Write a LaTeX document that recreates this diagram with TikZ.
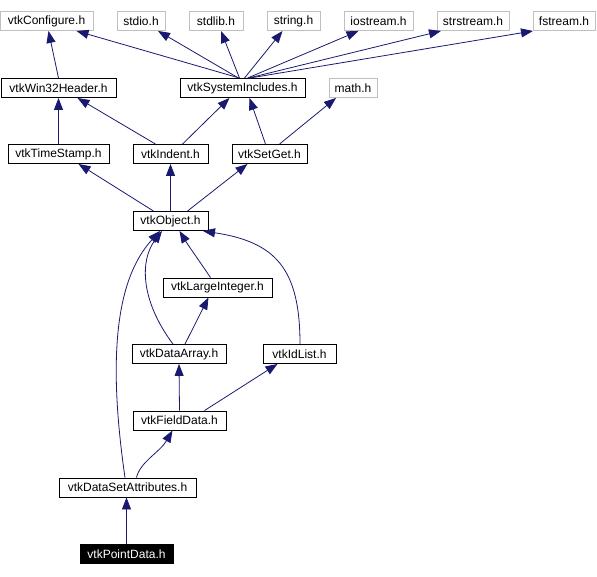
\documentclass[tikz,border=0pt]{standalone}
\usepackage{fontspec}
\setmainfont{Liberation Sans}
\usetikzlibrary{positioning, arrows.meta}
\definecolor{incblue}{HTML}{191970}
\definecolor{sysgray}{HTML}{BFBFBF}

\begin{document}
\begin{tikzpicture}[
    x=1pt, y=-1pt,
    hdr node/.style={
        draw=black, rectangle, minimum height=19pt, inner sep=0pt,
        font=\fontsize{12}{14}\selectfont, line width=0.9pt
    },
    sys node/.style={hdr node, draw=sysgray},
    main node/.style={hdr node, fill=black, text=white},
    inc/.style={-{Triangle[length=12pt,width=9pt]}, line width=0.8pt, draw=incblue}
]

% marco fijo de la imagen
\useasboundingbox (0,0) rectangle (597,576);

% ------------------------------------------------------------------------------
% 1. CABECERAS (coordenadas en pixeles)
% ------------------------------------------------------------------------------
\node[sys node, minimum width=93pt] (conf) at (46.5,21) {vtkConfigure.h};
\node[sys node, minimum width=48pt] (stdio) at (141,21) {stdio.h};
\node[sys node, minimum width=54pt] (stdlib) at (216,21) {stdlib.h};
\node[sys node, minimum width=53pt] (string) at (293.5,21) {string.h};
\node[sys node, minimum width=69pt] (iostream) at (378.5,21) {iostream.h};
\node[sys node, minimum width=72pt] (strstream) at (473,21) {strstream.h};
\node[sys node, minimum width=62pt] (fstream) at (564,21) {fstream.h};

\node[hdr node, minimum width=115pt] (win32) at (58.5,88) {vtkWin32Header.h};
\node[hdr node, minimum width=125pt] (sysinc) at (242.5,88) {vtkSystemIncludes.h};
\node[sys node, minimum width=48pt] (math) at (353,88) {math.h};

\node[hdr node, minimum width=101pt] (timestamp) at (58.5,154) {vtkTimeStamp.h};
\node[hdr node, minimum width=75pt] (indent) at (170.5,154) {vtkIndent.h};
\node[hdr node, minimum width=75pt] (setget) at (269.5,154) {vtkSetGet.h};

\node[hdr node, minimum width=75pt] (object) at (170.5,221) {vtkObject.h};
\node[hdr node, minimum width=109pt] (largeint) at (217.5,287.5) {vtkLargeInteger.h};
\node[hdr node, minimum width=94pt] (dataarray) at (179,354) {vtkDataArray.h};
\node[hdr node, minimum width=73pt] (idlist) at (299.5,354) {vtkIdList.h};
\node[hdr node, minimum width=93pt] (fielddata) at (179.5,420.5) {vtkFieldData.h};
\node[hdr node, minimum width=137pt] (dsattr) at (127.5,487.5) {vtkDataSetAttributes.h};
\node[main node, minimum width=93pt] (pointdata) at (126.5,554) {vtkPointData.h};

% ------------------------------------------------------------------------------
% 2. INCLUDES DE SISTEMA
% ------------------------------------------------------------------------------
\draw[inc] (win32.north) -- ([xshift=2pt]conf.south);
\draw[inc] ([xshift=-3pt]sysinc.north) -- ([xshift=30pt]conf.south);
\draw[inc] ([xshift=-4pt]sysinc.north) -- ([xshift=17pt]stdio.south);
\draw[inc] ([xshift=-3pt]sysinc.north) -- ([xshift=5pt]stdlib.south);
\draw[inc] ([xshift=2pt]sysinc.north) -- ([xshift=-11pt]string.south);
\draw[inc] ([xshift=5pt]sysinc.north) -- ([xshift=-20pt]iostream.south);
\draw[inc] ([xshift=6pt]sysinc.north) -- ([xshift=-32pt]strstream.south);
\draw[inc] ([xshift=7pt]sysinc.north) -- ([xshift=-31pt]fstream.south);

% ------------------------------------------------------------------------------
% 3. NIVEL INTERMEDIO
% ------------------------------------------------------------------------------
\draw[inc] (timestamp.north) -- (win32.south);
\draw[inc] ([xshift=-15pt]indent.north) -- ([xshift=19pt]win32.south);
\draw[inc] ([xshift=12pt]indent.north) -- ([xshift=-13pt]sysinc.south);
\draw[inc] ([xshift=-4pt]setget.north) -- ([xshift=7pt]sysinc.south);
\draw[inc] ([xshift=10pt]setget.north) -- ([xshift=-17pt]math.south);

\draw[inc] ([xshift=-17pt]object.north) -- ([xshift=20pt]timestamp.south);
\draw[inc] (object.north) -- (indent.south);
\draw[inc] ([xshift=17pt]object.north) -- ([xshift=-22pt]setget.south);

% ------------------------------------------------------------------------------
% 4. CLASES DE DATOS (curvas hacia vtkObject)
% ------------------------------------------------------------------------------
\draw[inc] ([xshift=-7pt]largeint.north) .. controls (200,262) and (188,245) .. ([xshift=9pt]object.south);
\draw[inc] ([xshift=-6pt]dataarray.north) .. controls (140,300) and (140,260) .. ([xshift=-8.5pt]object.south);
\draw[inc] ([xshift=0.5pt]idlist.north) .. controls (300,268) and (275,242) .. ([xshift=32.5pt]object.south);
\draw[inc] ([xshift=-2.5pt]dsattr.north) .. controls (108,360) and (115,280) .. ([xshift=-10.5pt]object.south);

\draw[inc] ([xshift=6pt]dataarray.north) -- ([xshift=-9pt]largeint.south);
\draw[inc] (fielddata.north) -- (dataarray.south);
\draw[inc] ([xshift=25pt]fielddata.north) -- ([xshift=-22pt]idlist.south);
\draw[inc] ([xshift=9pt]dsattr.north) .. controls (140,462) and (160,452) .. ([xshift=-7pt]fielddata.south);
\draw[inc] (pointdata.north) -- ([xshift=-1pt]dsattr.south);

\end{tikzpicture}
\end{document}
